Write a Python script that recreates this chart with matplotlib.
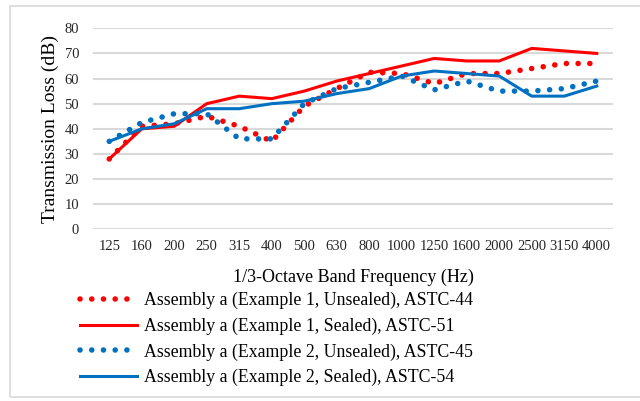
import numpy as np
import matplotlib.pyplot as plt
from matplotlib.patches import Rectangle

plt.rcParams['font.family'] = ['Liberation Serif', 'DejaVu Serif']

# 1/3-octave band centre frequencies
freqs = ['125', '160', '200', '250', '315', '400', '500', '630', '800',
         '1000', '1250', '1600', '2000', '2500', '3150', '4000']

# transmission loss (dB)
ex1_unsealed = [28, 41, 42, 45, 41, 35, 49, 56, 62.5, 62, 58, 62, 62, 64, 66, 66]
ex1_sealed = [28, 40, 41, 50, 53, 52, 55, 59, 62, 65, 68, 67, 67, 72, 71, 70]
ex2_unsealed = [35, 42.5, 46, 46, 36, 36, 50, 56, 58.5, 61, 55.5, 59, 55, 55, 56, 59]
ex2_sealed = [35, 40, 42, 48, 48, 50, 51, 54, 56, 61, 63, 62, 61, 53, 53, 57]

labels = ['Assembly a (Example 1, Unsealed), ASTC-44',
          'Assembly a (Example 1, Sealed), ASTC-51',
          'Assembly a (Example 2, Unsealed), ASTC-45',
          'Assembly a (Example 2, Sealed), ASTC-54']

red = '#ff0000'
blue = '#0070c0'

W, H = 640, 401
fig = plt.figure(figsize=(W / 100, H / 100), dpi=100)
ax = fig.add_axes([93 / W, 1 - 229.3 / H, 520 / W, 201 / H])

x = np.arange(len(freqs))
dot = dict(linestyle=(0, (0.01, 2.1)), linewidth=4.0, dash_capstyle='round')
ax.plot(x, ex1_unsealed, color=red, label=labels[0], **dot)
ax.plot(x, ex1_sealed, color=red, linewidth=2.2, label=labels[1])
ax.plot(x, ex2_unsealed, color=blue, label=labels[2], **dot)
ax.plot(x, ex2_sealed, color=blue, linewidth=2.2, label=labels[3])

ax.set_xlim(-0.5, len(freqs) - 0.5)
ax.set_ylim(0, 80)
ax.set_yticks(np.arange(0, 81, 10))
ax.set_xticks(x)
ax.set_xticklabels(freqs)
ax.tick_params(length=0, labelsize=10.5, colors='#262626')
ax.tick_params(axis='x', pad=8)
ax.tick_params(axis='y', pad=10)
ax.grid(axis='y', color='#d9d9d9', linewidth=1.5)
ax.set_axisbelow(True)
for s in ax.spines.values():
    s.set_visible(False)

ax.set_ylabel('Transmission Loss (dB)', fontsize=14, labelpad=4)
ax.set_xlabel('1/3-Octave Band Frequency (Hz)', fontsize=13, labelpad=11)

fig.legend(loc='upper left', bbox_to_anchor=(80 / W, 1 - 292 / H), frameon=False,
           fontsize=12.8, handlelength=3.2, handletextpad=0.4, labelspacing=0.47,
           borderaxespad=0, borderpad=0)

# thin grey border round the chart
fig.add_artist(Rectangle((9.5 / W, 1 - 396.5 / H), 640 / W, 390.5 / H,
                         transform=fig.transFigure, fill=False,
                         edgecolor='#d9d9d9', linewidth=1.2))

fig.savefig('out.png', dpi=100)
